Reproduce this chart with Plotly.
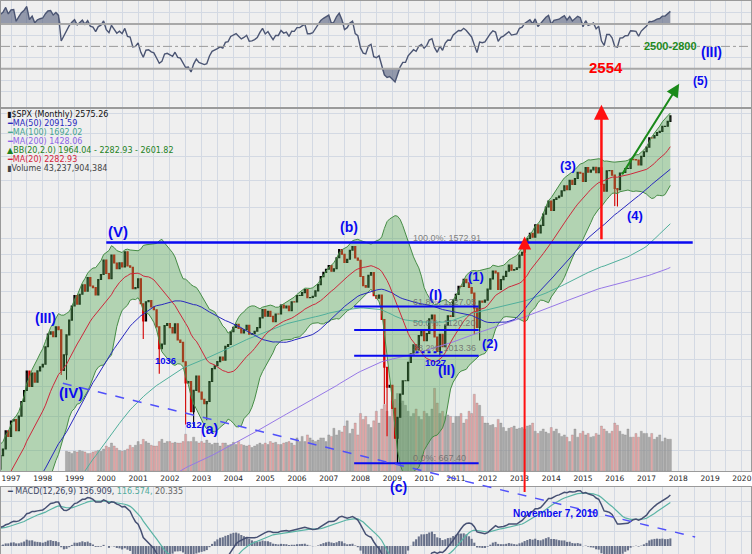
import numpy as np
import pandas as pd
import plotly.graph_objects as go

W, H = 752, 554

# ---------------- data ----------------
start_month = "1985-01-01"
spx_close = [
    179.63, 181.18, 180.66, 179.83, 189.55, 191.85, 190.92, 188.63, 182.08, 189.82, 202.17, 211.28,
    211.78, 226.92, 238.90, 235.52, 247.35, 250.84, 236.12, 252.93, 231.32, 243.98, 249.22, 242.17,
    274.08, 284.20, 291.70, 288.36, 290.10, 304.00, 318.66, 329.80, 321.83, 251.79, 230.30, 247.08,
    257.07, 267.82, 258.89, 261.33, 262.16, 273.50, 272.02, 261.52, 271.91, 278.97, 273.70, 277.72,
    297.47, 288.86, 294.87, 309.64, 320.52, 317.98, 346.08, 351.45, 349.15, 340.36, 345.99, 353.40,
    329.08, 331.89, 339.94, 330.80, 361.23, 358.02, 356.15, 322.56, 306.05, 304.00, 322.22, 330.22,
    343.93, 367.07, 375.22, 375.35, 389.83, 371.16, 387.81, 395.43, 387.86, 392.46, 375.22, 417.09,
    408.79, 412.70, 403.69, 414.95, 415.35, 408.14, 424.21, 414.03, 417.80, 418.68, 431.35, 435.71,
    438.78, 443.38, 451.67, 440.19, 450.19, 450.53, 448.13, 463.56, 458.93, 467.83, 461.79, 466.45,
    481.61, 467.14, 445.77, 450.91, 456.50, 444.27, 458.26, 475.49, 462.69, 472.35, 453.69, 459.27,
    470.42, 487.39, 500.71, 514.71, 533.40, 544.75, 562.06, 561.88, 584.41, 581.50, 605.37, 615.93,
    636.02, 640.43, 645.50, 654.17, 669.12, 670.63, 639.95, 651.99, 687.31, 705.27, 757.02, 740.74,
    786.16, 790.82, 757.12, 801.34, 848.28, 885.14, 954.29, 899.47, 947.28, 914.62, 955.40, 970.43,
    980.28, 1049.34, 1101.75, 1111.75, 1090.82, 1133.84, 1120.67, 957.28, 1017.01, 1098.67, 1163.63, 1229.23,
    1279.64, 1238.33, 1286.37, 1335.18, 1301.84, 1372.71, 1328.72, 1320.41, 1282.71, 1362.93, 1388.91, 1469.25,
    1394.46, 1366.42, 1498.58, 1452.43, 1420.60, 1454.60, 1430.83, 1517.68, 1436.51, 1429.40, 1314.95, 1320.28,
    1366.01, 1239.94, 1160.33, 1249.46, 1255.82, 1224.38, 1211.23, 1133.58, 1040.94, 1059.78, 1139.45, 1148.08,
    1130.20, 1106.73, 1147.39, 1076.92, 1067.14, 989.82, 911.62, 916.07, 815.28, 885.76, 936.31, 879.82,
    855.70, 841.15, 848.18, 916.92, 963.59, 974.50, 990.31, 1008.01, 995.97, 1050.71, 1058.20, 1111.92,
    1131.13, 1144.94, 1126.21, 1107.30, 1120.68, 1140.84, 1101.72, 1104.24, 1114.58, 1130.20, 1173.82, 1211.92,
    1181.27, 1203.60, 1180.59, 1156.85, 1191.50, 1191.33, 1234.18, 1220.33, 1228.81, 1207.01, 1249.48, 1248.29,
    1280.08, 1280.66, 1294.87, 1310.61, 1270.09, 1270.20, 1276.66, 1303.82, 1335.85, 1377.94, 1400.63, 1418.30,
    1438.24, 1406.82, 1420.86, 1482.37, 1530.62, 1503.35, 1455.27, 1473.99, 1526.75, 1549.38, 1481.14, 1468.36,
    1378.55, 1330.63, 1322.70, 1385.59, 1400.38, 1280.00, 1267.38, 1282.83, 1166.36, 968.75, 896.24, 903.25,
    825.88, 735.09, 797.87, 872.81, 919.14, 919.32, 987.48, 1020.62, 1057.08, 1036.19, 1095.63, 1115.10,
    1073.87, 1104.49, 1169.43, 1186.69, 1089.41, 1030.71, 1101.60, 1049.33, 1141.20, 1183.26, 1180.55, 1257.64,
    1286.12, 1327.22, 1325.83, 1363.61, 1345.20, 1320.64, 1292.28, 1218.89, 1131.42, 1253.30, 1246.96, 1257.60,
    1312.41, 1365.68, 1408.47, 1397.91, 1310.33, 1362.16, 1379.32, 1406.58, 1440.67, 1412.16, 1416.18, 1426.19,
    1498.11, 1514.68, 1569.19, 1597.57, 1630.74, 1606.28, 1685.73, 1632.97, 1681.55, 1756.54, 1805.81, 1848.36,
    1782.59, 1859.45, 1872.34, 1883.95, 1923.57, 1960.23, 1930.67, 2003.37, 1972.29, 2018.05, 2067.56, 2058.90,
    1994.99, 2104.50, 2067.89, 2085.51, 2107.39, 2063.11, 2103.84, 1972.18, 1920.03, 2079.36, 2080.41, 2043.94,
    1940.24, 1932.23, 2059.74, 2065.30, 2096.95, 2098.86, 2173.60, 2170.95, 2168.27, 2126.15, 2198.81, 2238.83,
    2278.87, 2363.64, 2362.72, 2384.20, 2411.80, 2423.41, 2470.30, 2471.65, 2519.36, 2575.26,
]

# intramonth lows that show as wicks
low_marks = {
    "1998-08-01": 939.98, "1998-10-01": 923.32, "2001-03-01": 1081.19, "2001-09-01": 944.75,
    "2002-07-01": 775.68, "2002-10-01": 768.63, "2003-03-01": 788.90, "2008-10-01": 839.80,
    "2008-11-01": 741.02, "2009-03-01": 666.79, "2010-07-01": 1010.91, "2011-08-01": 1101.54,
    "2011-10-01": 1074.77, "2015-08-01": 1867.01, "2016-01-01": 1812.29, "2016-02-01": 1810.10,
}

volume_start = "1998-10-01"
volume_bn = [
    27, 26, 24,
    27, 26, 28, 27, 26, 24, 24, 26, 27, 28, 27, 30,
    34, 32, 38, 34, 31, 28, 27, 28, 30, 35, 32, 35,
    40, 36, 43, 40, 38, 35, 34, 34, 40, 43, 38, 40,
    40, 38, 39, 38, 38, 40, 50, 40, 40, 46, 40, 38,
    40, 38, 42, 38, 36, 38, 38, 34, 38, 38, 35, 36,
    39, 36, 40, 36, 35, 34, 35, 32, 34, 36, 38, 36,
    38, 36, 40, 38, 39, 36, 36, 38, 39, 40, 38, 35,
    45, 40, 47, 40, 49, 45, 42, 40, 42, 45, 45, 40,
    49, 47, 58, 49, 55, 53, 61, 68, 51, 57, 65, 49,
    78, 70, 74, 63, 59, 68, 81, 65, 84, 90, 81, 74,
    95, 97, 105, 92, 95, 89, 81, 74, 78, 84, 74, 70,
    81, 78, 74, 84, 112, 92, 78, 81, 74, 76, 74, 65,
    74, 74, 78, 65, 70, 81, 78, 104, 92, 89, 74, 65,
    65, 62, 63, 59, 70, 65, 59, 54, 58, 59, 61, 57,
    58, 59, 57, 61, 62, 65, 54, 51, 54, 57, 53, 51,
    59, 54, 57, 51, 47, 49, 46, 40, 49, 57, 46, 51,
    54, 49, 51, 46, 47, 51, 49, 61, 57, 54, 51, 54,
    65, 62, 54, 50, 49, 57, 46, 46, 51, 46, 54, 51,
    51, 46, 51, 43, 46, 49, 40, 45, 43, 43.24,
]

fib_levels = [1572.91, 1227.05, 1120.20, 1013.36, 667.40]
fib_texts = ["100.0%: 1572.91", "61.8%: 1227.05", "50.0%: 1120.20", "38.2%: 1013.36", "0.0%: 667.40"]
support_1027 = 1027.0

# ---------------- indicators ----------------
dates = pd.date_range(start_month, periods=len(spx_close), freq="MS")
close = pd.Series(spx_close, index=dates, dtype=float)
open_ = close.shift(1).fillna(close.iloc[0])
high = pd.Series(np.maximum(open_.values, close.values), index=dates)
low = pd.Series(np.minimum(open_.values, close.values), index=dates)
for k, v in low_marks.items():
    low[pd.Timestamp(k)] = v

ma20 = close.rolling(20).mean()
ma50 = close.rolling(50).mean()
ma100 = close.rolling(100).mean()
ma200 = close.rolling(200).mean()
sd20 = close.rolling(20).std(ddof=0)
bb_up = ma20 + 2 * sd20
bb_dn = ma20 - 2 * sd20

ema12 = close.ewm(span=12, adjust=False).mean()
ema26 = close.ewm(span=26, adjust=False).mean()
macd = ema12 - ema26
signal = macd.ewm(span=9, adjust=False).mean()
hist = macd - signal

delta = close.diff()
gain = delta.clip(lower=0).ewm(alpha=1 / 14, adjust=False).mean()
loss = (-delta.clip(upper=0)).ewm(alpha=1 / 14, adjust=False).mean()
rsi = 100 - 100 / (1 + gain / loss)

vol = pd.Series(volume_bn, index=pd.date_range(volume_start, periods=len(volume_bn), freq="MS"))
vol_up = close.diff().reindex(vol.index) >= 0
vol_colors = ["rgba(150,150,150,0.75)" if u else "rgba(226,140,140,0.7)" for u in vol_up]

# ---------------- geometry helpers ----------------
t_left = pd.Timestamp("1996-09-08")
t_right = pd.Timestamp("2020-04-15")


def xp(px):
    return px / W


def yp(py):
    return 1 - py / H


def date_paper(d):
    d = pd.Timestamp(d)
    return (d - t_left) / (t_right - t_left)


GRID = "#d3d9e3"
BLUE = "#0a0af0"
BORDER = "#9a9a9a"

fig = go.Figure()

# volume (base axis y)
fig.add_trace(go.Bar(x=vol.index, y=vol.values, marker=dict(color=vol_colors, line=dict(color="rgba(110,110,110,0.5)", width=0.5)),
                     xaxis="x", yaxis="y", hoverinfo="skip"))

# bollinger band
fig.add_trace(go.Scatter(x=dates, y=bb_dn, mode="lines", line=dict(color="rgb(70,140,70)", width=1),
                         xaxis="x", yaxis="y5", hoverinfo="skip"))
fig.add_trace(go.Scatter(x=dates, y=bb_up, mode="lines", line=dict(color="rgb(70,140,70)", width=1),
                         fill="tonexty", fillcolor="rgba(80,165,80,0.38)", xaxis="x", yaxis="y5", hoverinfo="skip"))
# moving averages
for s, col in [(ma200, "rgb(150,120,230)"), (ma100, "rgb(80,175,155)"), (ma50, "rgb(40,40,190)"), (ma20, "rgb(205,40,60)")]:
    fig.add_trace(go.Scatter(x=dates, y=s, mode="lines", line=dict(color=col, width=1), xaxis="x", yaxis="y5", hoverinfo="skip"))

fig.add_trace(go.Candlestick(
    x=dates, open=open_, high=high, low=low, close=close, xaxis="x", yaxis="y5",
    increasing=dict(line=dict(color="black", width=1.1), fillcolor="rgba(0,0,0,0)"),
    decreasing=dict(line=dict(color="#d40000", width=1.1), fillcolor="#d40000"),
    whiskerwidth=0, hoverinfo="skip"))

# resistance & fib lines
fig.add_trace(go.Scatter(x=["2000-01-01", "2018-06-15"], y=[fib_levels[0]] * 2, mode="lines",
                         line=dict(color=BLUE, width=2.5), xaxis="x", yaxis="y5", hoverinfo="skip"))
for lv in fib_levels[1:]:
    fig.add_trace(go.Scatter(x=["2007-10-20", "2011-09-20"], y=[lv, lv], mode="lines",
                             line=dict(color=BLUE, width=2), xaxis="x", yaxis="y5", hoverinfo="skip"))
fig.add_trace(go.Scatter(x=["2009-09-25", "2010-09-01"], y=[support_1027] * 2, mode="lines",
                         line=dict(color=BLUE, width=2, dash="dot"), xaxis="x", yaxis="y5", hoverinfo="skip"))

# RSI panel
rsi_v = rsi[dates >= pd.Timestamp("1996-06-01")]
rd = rsi_v.index
fig.add_trace(go.Scatter(x=rd, y=[70] * len(rd), mode="lines", line=dict(width=0), xaxis="x2", yaxis="y2", hoverinfo="skip"))
fig.add_trace(go.Scatter(x=rd, y=np.maximum(rsi_v.values, 70), mode="lines", line=dict(width=0), fill="tonexty",
                         fillcolor="rgba(85,95,125,0.6)", xaxis="x2", yaxis="y2", hoverinfo="skip"))
fig.add_trace(go.Scatter(x=rd, y=[30] * len(rd), mode="lines", line=dict(width=0), xaxis="x2", yaxis="y2", hoverinfo="skip"))
fig.add_trace(go.Scatter(x=rd, y=np.minimum(rsi_v.values, 30), mode="lines", line=dict(width=0), fill="tonexty",
                         fillcolor="rgba(85,95,125,0.6)", xaxis="x2", yaxis="y2", hoverinfo="skip"))
fig.add_trace(go.Scatter(x=rd, y=rsi_v.values, mode="lines", line=dict(color="rgb(75,85,115)", width=1.4),
                         xaxis="x2", yaxis="y2", hoverinfo="skip"))

# MACD panel
fig.add_trace(go.Bar(x=dates, y=hist, marker=dict(color="rgba(80,90,120,0.85)", line=dict(width=0)),
                     xaxis="x3", yaxis="y3", hoverinfo="skip"))
fig.add_trace(go.Scatter(x=dates, y=signal, mode="lines", line=dict(color="rgb(90,180,165)", width=1.2),
                         xaxis="x3", yaxis="y3", hoverinfo="skip"))
fig.add_trace(go.Scatter(x=dates, y=macd, mode="lines", line=dict(color="rgb(70,80,115)", width=1.5),
                         xaxis="x3", yaxis="y3", hoverinfo="skip"))

xcommon = dict(type="date", range=[t_left, t_right], showgrid=True, gridcolor=GRID, gridwidth=1,
               dtick="M12", tick0="1997-01-01", minor=dict(dtick="M6", showgrid=True, gridcolor=GRID),
               showline=True, linecolor=BORDER, mirror=True, zeroline=False, ticks="")

fig.update_layout(
    width=W, height=H, autosize=False, margin=dict(l=0, r=0, t=0, b=0),
    paper_bgcolor="white", plot_bgcolor="#efefef", showlegend=False, bargap=0.15,
    font=dict(family="Liberation Sans, Arial, sans-serif"),
    xaxis=dict(**xcommon, anchor="y", showticklabels=True, tickformat="%Y",
               tickfont=dict(family="DejaVu Sans", size=7.5, color="#222"), rangeslider=dict(visible=False)),
    xaxis2=dict(**xcommon, anchor="y2", showticklabels=False, matches="x"),
    xaxis3=dict(**xcommon, anchor="y3", showticklabels=False, matches="x"),
    yaxis=dict(domain=[yp(471), yp(108)], range=[0, 490], showgrid=False, showticklabels=False,
               zeroline=False, showline=False, anchor="x"),
    yaxis5=dict(type="log", overlaying="y", anchor="x", side="right",
                range=[np.log10(647), np.log10(2645)],
                tickvals=[700, 800, 900, 1000, 1100, 1200, 1300, 1400, 1500, 1600, 1800, 2000, 2200, 2400, 2600],
                showticklabels=False, showgrid=True, gridcolor=GRID, showline=True, linecolor=BORDER,
                mirror=True, zeroline=False),
    yaxis2=dict(domain=[yp(106), 1.0], range=[-3.8, 90.4], tickvals=[10, 20, 40, 60, 80], showticklabels=False,
                showgrid=True, gridcolor=GRID, showline=True, linecolor=BORDER, mirror=True, zeroline=False, anchor="x2"),
    yaxis3=dict(domain=[0, yp(487)], range=[-21.4, 158], tickvals=[40, 80, 120], showticklabels=False,
                showgrid=True, gridcolor=GRID, showline=True, linecolor=BORDER, mirror=True, zeroline=False, anchor="x3"),
)

shapes = [
    dict(type="line", xref="x2 domain", x0=0, x1=1, yref="y2", y0=70, y1=70, line=dict(color="#a8a8a8", width=2)),
    dict(type="line", xref="x2 domain", x0=0, x1=1, yref="y2", y0=30, y1=30, line=dict(color="#a8a8a8", width=2)),
    dict(type="line", xref="x2 domain", x0=0, x1=1, yref="y2", y0=50, y1=50, line=dict(color="#9a9a9a", width=1, dash="dashdot")),
    # long-term dashed trend line
    dict(type="line", xref="paper", yref="paper", x0=xp(62), y0=yp(383), x1=xp(696), y1=yp(537),
         line=dict(color="rgb(80,80,250)", width=1.5, dash="dash")),
]
fig.update_layout(shapes=shapes)

ann = []


def txt(t, x, y, size, color, bold=True, family="Liberation Sans, Arial", xanchor="center"):
    ann.append(dict(text=(f"<b>{t}</b>" if bold else t), x=xp(x), y=yp(y), xref="paper", yref="paper",
                    showarrow=False, xanchor=xanchor, yanchor="middle",
                    font=dict(size=size, color=color, family=family)))


for t, x, y, s in [("(V)", 117, 231, 15), ("(III)", 45, 318, 14), ("(IV)", 70, 392, 15), ("(a)", 209, 429, 14),
                   ("(b)", 349, 226, 14), ("(c)", 399, 487, 14), ("(I)", 436, 295, 14), ("(II)", 447, 370, 14),
                   ("(1)", 476, 276, 13), ("(2)", 490, 343, 13), ("(3)", 569, 165, 13), ("(4)", 636, 215, 13),
                   ("(5)", 701, 80, 12), ("(III)", 712, 51, 14)]:
    txt(t, x, y, s, BLUE)
for t, x, y in [("1036", 165, 360), ("812", 194, 424), ("1027", 436, 362)]:
    txt(t, x, y, 9.5, BLUE)

for t, y in zip(fib_texts, [237, 302, 323, 348, 458]):
    txt(t, 411, y, 9, "rgba(105,105,105,0.85)", bold=False, xanchor="left")

txt("2554", 607, 67, 15, "#ff0000")
txt("2500-2800", 671, 45, 11, "#1f8a1f")
txt("November 7, 2010", 556, 513, 10, BLUE)

# legend texts
legend_rows = [
    ("▮$SPX (Monthly) 2575.26", "#111111"),
    ("━MA(50) 2091.59", "rgb(40,40,190)"),
    ("━MA(100) 1692.02", "rgb(70,165,145)"),
    ("━MA(200) 1428.06", "rgb(140,100,230)"),
    ("▲BB(20,2.0) 1964.04 - 2282.93 - 2601.82", "rgb(30,130,30)"),
    ("━MA(20) 2282.93", "rgb(215,30,60)"),
    ("▮Volume 43,237,904,384", "#444444"),
]
for i, (t, c) in enumerate(legend_rows):
    txt(t, 4, 114 + 9 * i, 8, c, bold=False, family="DejaVu Sans", xanchor="left")

ann.append(dict(text="━ MACD(12,26,9) 136.909, <span style='color:rgb(80,170,155)'>116.574,</span> "
                     "<span style='color:#666'>20.335</span>",
                x=xp(4), y=yp(491), xref="paper", yref="paper", showarrow=False, xanchor="left",
                yanchor="middle", font=dict(size=8, color="rgb(60,70,100)", family="DejaVu Sans")))

# arrows
ann.append(dict(text="", x=date_paper("2013-03-01"), y=yp(236), xref="paper", yref="paper", showarrow=True,
                ax=0, ay=257, arrowhead=2, arrowsize=1.3, arrowwidth=2, arrowcolor="#ff1010"))
ann.append(dict(text="", x=date_paper("2015-08-01"), y=yp(104), xref="paper", yref="paper", showarrow=True,
                ax=0, ay=136, arrowhead=2, arrowsize=1.2, arrowwidth=2.5, arrowcolor="#ff1010"))
ann.append(dict(text="", x=xp(680), y=yp(83), xref="paper", yref="paper", showarrow=True,
                ax=-58, ay=92, arrowhead=2, arrowsize=1.3, arrowwidth=2, arrowcolor="#1a8a1a"))

fig.update_layout(annotations=ann)
fig.write_html("out.html")
